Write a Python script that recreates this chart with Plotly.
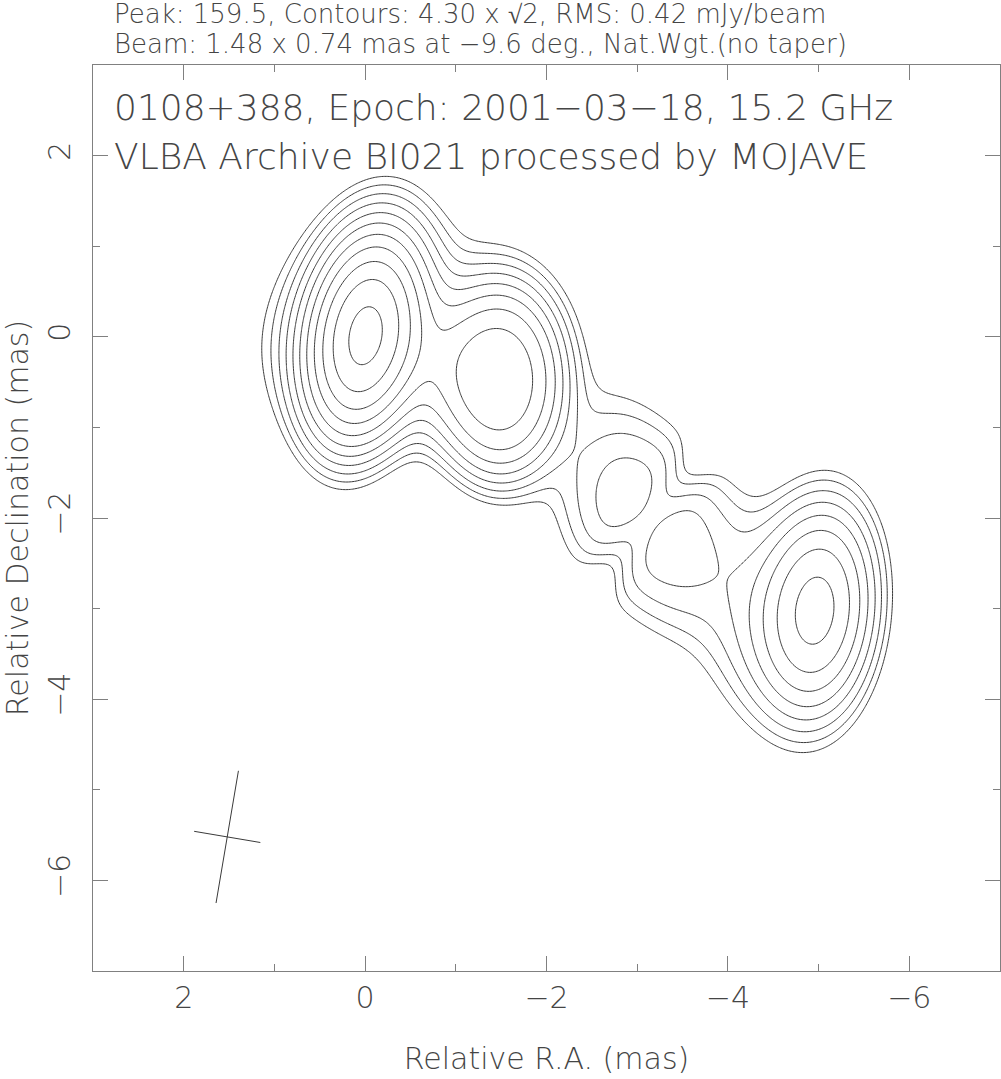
import numpy as np
import plotly.graph_objects as go

# ---------------- map header values ----------------
peak_flux = 159.5
base_contour = 4.30
contour_factor = np.sqrt(2)
n_levels = 11
rms = 0.42

# ---------------- model components (RA, Dec in mas; mJy/beam) ----------------
comp_name  = ["core", "core_halo", "bridge", "knot2", "knot2_halo", "knot3", "knot4", "trench34", "knot5", "knot5_east"]
comp_ra    = [0.00,   0.35,  -0.75, -1.49, -1.40, -2.79, -3.47, -3.13, -5.00, -4.45]
comp_dec   = [0.00,   0.25,  -0.30, -0.50,  0.10, -1.75, -2.29, -2.02, -3.00, -3.15]
comp_flux  = [148.0,  8.0,   16.0,  58.0,   5.0,  12.5,  12.5,  -6.5,  50.0,  11.5]
comp_major = [1.50,   1.90,   1.30,  1.60,  2.20,  1.54,  1.50,  1.80,  1.60,  1.70]
comp_minor = [0.80,   1.30,   0.80,  1.04,  1.70,  1.07,  1.05,  0.40,  0.85,  1.15]
comp_pa    = [-10.0, -30.0,   0.0,   0.0,  40.0,   0.0,   0.0, -38.5,  -5.0,   0.0]
comp_shape = [1.0,    1.0,    1.0,   1.3,   1.0,   1.0,   1.0,   1.0,   1.0,   1.0]

# ---------------- restoring beam ----------------
beam_major = 1.48
beam_minor = 0.74
beam_pa = -9.6
beam_center_ra = 1.52
beam_center_dec = -5.52

# ---------------- axes ----------------
x_range = [3, -7]
y_range = [-7, 3]
x_ticks = [2, 0, -2, -4, -6]
y_ticks = [-6, -4, -2, 0, 2]

# ---------------- build the model image ----------------
ra = np.linspace(3, -7, 601)
dec = np.linspace(-7, 3, 601)
RA, DEC = np.meshgrid(ra, dec)
field = np.zeros_like(RA)
for x0, y0, f, bmaj, bmin, pa, p in zip(comp_ra, comp_dec, comp_flux, comp_major, comp_minor, comp_pa, comp_shape):
    t = np.deg2rad(pa)
    dx = RA - x0
    dy = DEC - y0
    u = dx * np.sin(t) + dy * np.cos(t)
    v = dx * np.cos(t) - dy * np.sin(t)
    q = 4 * ((u / bmaj) ** 2 + (v / bmin) ** 2)
    field += f * np.exp(-np.log(2) * q ** p)

# contour index: level k <-> base * sqrt(2)^k
z = np.log(np.clip(field, 1e-4, None) / base_contour) / np.log(contour_factor)

line_col = "#3a3a3a"
axis_col = "#808080"
text_col = "#454545"
font_family = "DejaVu Sans"
font_weight = 200

fig = go.Figure()
fig.add_trace(go.Contour(
    x=ra, y=dec, z=z,
    contours=dict(start=0, end=n_levels - 1, size=1, coloring="lines"),
    colorscale=[[0, line_col], [1, line_col]],
    line=dict(width=1, smoothing=1.0),
    showscale=False, hoverinfo="skip",
))

# beam cross
t = np.deg2rad(beam_pa)
maj_x = [beam_center_ra - 0.5 * beam_major * np.sin(t), beam_center_ra + 0.5 * beam_major * np.sin(t)]
maj_y = [beam_center_dec - 0.5 * beam_major * np.cos(t), beam_center_dec + 0.5 * beam_major * np.cos(t)]
min_x = [beam_center_ra - 0.5 * beam_minor * np.cos(t), beam_center_ra + 0.5 * beam_minor * np.cos(t)]
min_y = [beam_center_dec + 0.5 * beam_minor * np.sin(t), beam_center_dec - 0.5 * beam_minor * np.sin(t)]
for xs, ys in [(maj_x, maj_y), (min_x, min_y)]:
    fig.add_trace(go.Scatter(x=xs, y=ys, mode="lines", line=dict(color=line_col, width=1),
                             showlegend=False, hoverinfo="skip"))

tick_font = dict(family=font_family, size=30, color=text_col, weight=font_weight)
axis_common = dict(
    showline=True, linecolor=axis_col, linewidth=1, mirror="ticks",
    ticks="inside", ticklen=15, tickwidth=1, tickcolor=axis_col,
    minor=dict(ticks="inside", ticklen=7, tickwidth=1, tickcolor=axis_col, dtick=1),
    showgrid=False, zeroline=False, automargin=False,
    tickfont=tick_font,
)

fig.update_xaxes(range=x_range, tickvals=x_ticks, ticktext=[f"{v}".replace("-", "\u2212") for v in x_ticks],
                 title=dict(text="Relative R.A. (mas)", font=tick_font, standoff=33),
                 **axis_common)
fig.update_yaxes(range=y_range, tickvals=y_ticks, ticktext=[f"{v}".replace("-", "\u2212") for v in y_ticks],
                 tickangle=-90, ticklabelstandoff=10,
                 title=dict(text="Relative Declination (mas)", font=tick_font, standoff=14),
                 **axis_common)

header1 = f"Peak: {peak_flux}, Contours: {base_contour:.2f} x \u221a2, RMS: {rms} mJy/beam"
header2 = f"Beam: {beam_major} x {beam_minor} mas at {beam_pa} deg., Nat.Wgt.(no taper)".replace("-", "\u2212")
title1 = "0108+388, Epoch: 2001\u221203\u221218, 15.2 GHz"
title2 = "VLBA Archive BI021 processed by MOJAVE"

ann = []
for txt, ypx, size in [(header1, 14, 26), (header2, 44, 26), (title1, 107, 36), (title2, 157, 36)]:
    ann.append(dict(text=txt, xref="paper", yref="paper", x=(112 - 93) / 907, y=(971 - ypx) / 906,
                    xanchor="left", yanchor="middle", showarrow=False,
                    font=dict(family=font_family, size=size, color=text_col, weight=font_weight)))

fig.update_layout(
    width=1001, height=1079,
    margin=dict(l=93, r=1, t=65, b=108),
    paper_bgcolor="white", plot_bgcolor="white",
    showlegend=False, annotations=ann,
)

# remove the default 8 px page margin so the figure sits at the window's corner
fig.write_html("out.html", config={"displayModeBar": False},
               post_script="document.body.style.margin='0px';")
